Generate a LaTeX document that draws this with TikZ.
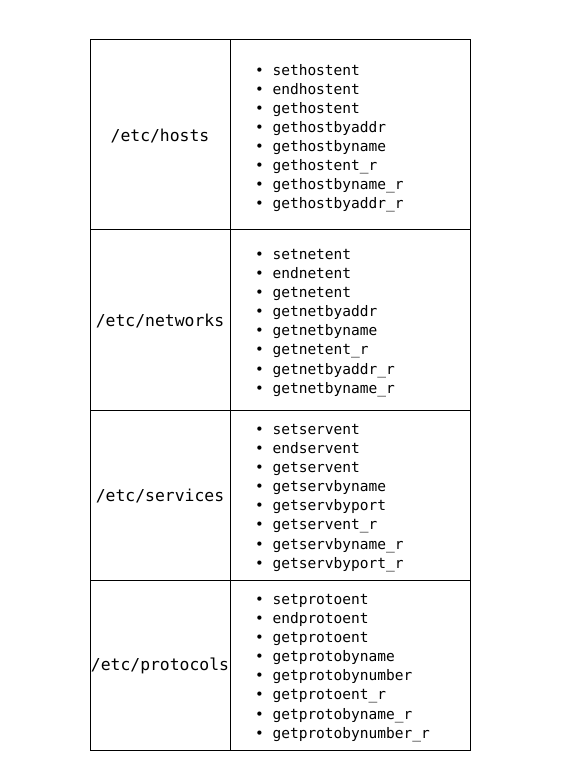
\documentclass[tikz,border=0pt]{standalone}
\usepackage{fontspec}
\usepackage{tikz}
\usetikzlibrary{positioning}
\newfontfamily\monofont{DejaVu Sans Mono}

\tikzset{
  filelabel/.style={inner sep=0pt, font=\monofont\fontsize{12.3pt}{14pt}\selectfont},
  funcs/.style={anchor=west, inner sep=0pt, align=left, font=\monofont\fontsize{10.9pt}{14.3pt}\selectfont}
}

\begin{document}
\begin{tikzpicture}[x=0.75pt,y=-0.75pt,line width=0.75pt]
\useasboundingbox (0,0) rectangle (580,780);

\draw (90,40) rectangle (470,750);
\draw (230,40) -- (230,750);
\draw (90,230) -- (470,230);
\draw (90,410) -- (470,410);
\draw (90,580) -- (470,580);

\node[filelabel] (hosts) at (160,136) {/etc/hosts};
\node[filelabel] (networks) at (160,321) {/etc/networks};
\node[filelabel] (services) at (160,496) {/etc/services};
\node[filelabel] (protocols) at (160,666) {/etc/protocols};

\node[funcs] (hostsfn) at (254.5,138) {• sethostent\\• endhostent\\• gethostent\\• gethostbyaddr\\• gethostbyname\\• gethostent\_r\\• gethostbyname\_r\\• gethostbyaddr\_r};
\node[funcs] (networksfn) at (254.5,323) {• setnetent\\• endnetent\\• getnetent\\• getnetbyaddr\\• getnetbyname\\• getnetent\_r\\• getnetbyaddr\_r\\• getnetbyname\_r};
\node[funcs] (servicesfn) at (254.5,498) {• setservent\\• endservent\\• getservent\\• getservbyname\\• getservbyport\\• getservent\_r\\• getservbyname\_r\\• getservbyport\_r};
\node[funcs] (protocolsfn) at (254.5,668) {• setprotoent\\• endprotoent\\• getprotoent\\• getprotobyname\\• getprotobynumber\\• getprotoent\_r\\• getprotobyname\_r\\• getprotobynumber\_r};

\end{tikzpicture}
\end{document}
